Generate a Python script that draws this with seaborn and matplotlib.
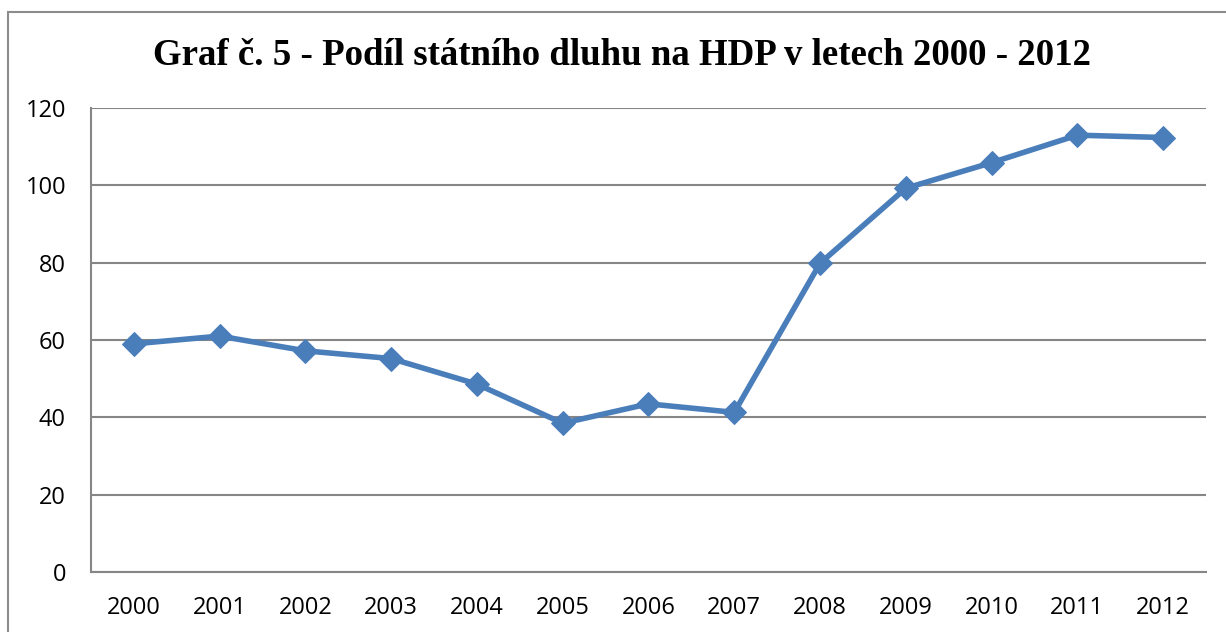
import matplotlib
matplotlib.use("Agg")
import matplotlib.pyplot as plt
from matplotlib.patches import Rectangle
import seaborn as sns
import pandas as pd
import numpy as np

# data
years = ["2000", "2001", "2002", "2003", "2004", "2005", "2006",
         "2007", "2008", "2009", "2010", "2011", "2012"]
debt_share = [59.0, 61.0, 57.2, 55.2, 48.6, 38.5, 43.5,
              41.3, 79.8, 99.2, 105.8, 112.9, 112.3]
y_ticks = [0, 20, 40, 60, 80, 100, 120]

title = "Graf č. 5 - Podíl státního dluhu na HDP v letech 2000 - 2012"

df = pd.DataFrame({"rok": years, "podil": debt_share})

sns.set_style("white")
plt.rcParams['font.family'] = ['Open Sans', 'DejaVu Sans']

line_blue = "#4a7ebb"
grid_gray = "#868686"

fig = plt.figure(figsize=(12.26, 6.32), dpi=100)
ax = fig.add_axes([0.0742, 0.0945, 0.9095, 0.7351])

# outer chart border (right/bottom edges cut off in the reference)
fig.patches.append(Rectangle((8 / 1226, -0.1), 1.2, 1 - 12 / 632 + 0.1,
                             transform=fig.transFigure, fill=False,
                             edgecolor="#8c8c8c", linewidth=1.5, zorder=0))

sns.lineplot(data=df, x="rok", y="podil", ax=ax, color=line_blue,
             linewidth=4.0, marker="D", markersize=12.5,
             markeredgecolor=line_blue, sort=False)

ax.set_xlim(-0.5, len(years) - 0.5)
ax.set_ylim(0, 120)
ax.set_yticks(y_ticks)
ax.set_xticks(np.arange(len(years)))
ax.set_xticklabels(years)
ax.set_xticks(np.arange(len(years) + 1) - 0.5, minor=True)

ax.grid(axis="y", color=grid_gray, linewidth=1.5)
ax.set_axisbelow(True)
for side in ["top", "right"]:
    ax.spines[side].set_visible(False)
for side in ["left", "bottom"]:
    ax.spines[side].set_color(grid_gray)
    ax.spines[side].set_linewidth(1.5)

ax.tick_params(axis="x", which="major", length=0, pad=17, labelsize=17,
               labelcolor="black")
ax.tick_params(axis="x", which="minor", length=6, width=1.5, color=grid_gray,
               direction="out")
ax.tick_params(axis="y", length=6, width=1.5, color=grid_gray, pad=12,
               labelsize=17, labelcolor="black")
ax.set_xlabel("")
ax.set_ylabel("")

fig.text(622 / 1226, 1 - 65 / 632, title, ha="center", va="baseline",
         color="black", family=["Liberation Serif", "DejaVu Serif"],
         weight="bold", size=26.6)

fig.savefig("out.png", dpi=100)
